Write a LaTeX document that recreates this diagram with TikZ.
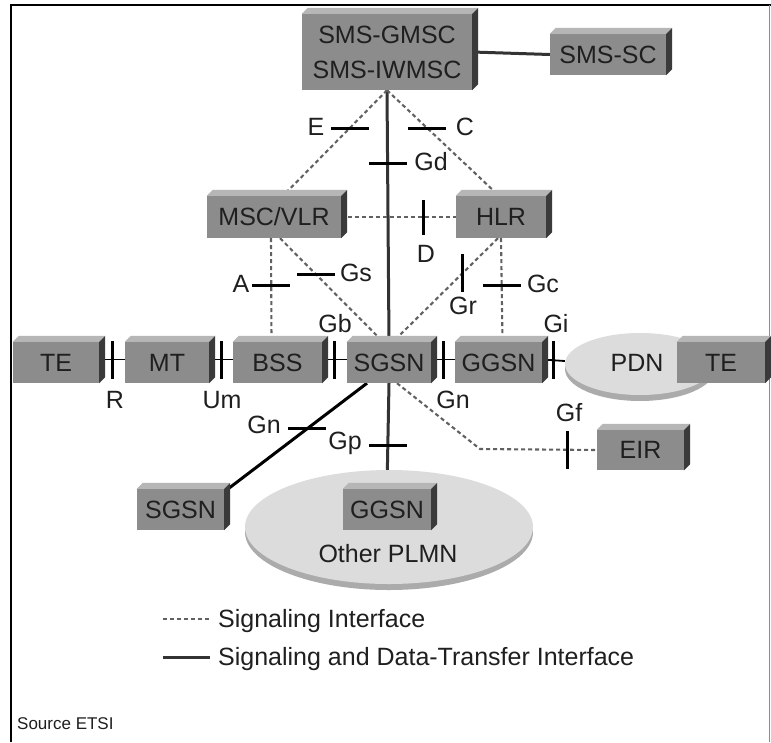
\documentclass[tikz,border=0pt]{standalone}
\usepackage{fontspec}
\setmainfont{Liberation Sans}
\usetikzlibrary{calc,shapes.geometric}

\definecolor{face}{HTML}{8C8C8C}
\definecolor{topf}{HTML}{B6B6B6}
\definecolor{side}{HTML}{3A3A3A}
\definecolor{cloud}{HTML}{DCDCDC}
\definecolor{cloudrim}{HTML}{ABABAB}

\pgfdeclarelayer{paper}
\pgfdeclarelayer{links}
\pgfsetlayers{paper,links,main}

\tikzset{
  lab/.style={font=\fontsize{25}{35}\selectfont, text=black!88, inner sep=0pt},
  box3d/.style={lab, fill=face, align=center},
  cloudshape/.style={lab, ellipse, fill=cloud, inner sep=0pt},
  sig/.style={draw=black!62, line width=2.1pt, dash pattern=on 4pt off 3pt},
  data/.style={draw=black!80, line width=3pt},
  tickV/.style={fill=black, inner sep=0pt, minimum width=3pt, minimum height=38pt},
  tickH/.style={fill=black, inner sep=0pt, minimum height=3pt, minimum width=38pt},
}

% 3-D box: name, outer x1, y1, x2, y2, label (depth of the bevel 6pt)
\newcommand\gbox[6]{%
  \pgfmathsetmacro\gbw{#4-#2-6}%
  \pgfmathsetmacro\gbh{#5-#3-6}%
  \node[box3d, minimum width=\gbw pt, minimum height=\gbh pt] (#1)
    at ({(#2+#4-6)/2},{(#3+#5+6)/2}) {#6};
  \fill[topf] (#1.north west) -- ++(6,-6) -- ($(#1.north east)+(6,-6)$)
    -- (#1.north east) -- cycle;
  \fill[side] (#1.north east) -- ++(6,-6) -- ($(#1.south east)+(6,-6)$)
    -- (#1.south east) -- cycle;
}

\begin{document}
\begin{tikzpicture}[x=1pt, y=-1pt]
\useasboundingbox (0,0) rectangle (771,742);
\begin{pgfonlayer}{paper}
  \fill[white] (0,0) rectangle (771,742);
\end{pgfonlayer}

% frame
\draw[black, line width=2pt] (11,742) -- (11,5) -- (771,5);
\draw[black!45, line width=1pt] (769.5,5) -- (769.5,742);

% clouds
\fill[cloudrim] (640,369) ellipse [x radius=75, y radius=32];
\node[cloudshape, minimum width=150pt, minimum height=62pt] (pdn) at (640,364) {};
\node[lab] (pdnl) at (637,363) {PDN};
\fill[cloudrim] (389,532) ellipse [x radius=144, y radius=58];
\node[cloudshape, minimum width=288pt, minimum height=114pt] (plmn) at (389,527) {};
\node[lab] (plmnl) at (388,554) {Other PLMN};

% network elements
\gbox{smsg}{302}{8}{478}{90}{SMS-GMSC\\SMS-IWMSC}
\gbox{smssc}{550}{28}{672}{75}{SMS-SC}
\gbox{msc}{207}{190}{347}{238}{MSC/VLR}
\gbox{hlr}{456}{190}{552}{238}{HLR}
\gbox{te}{13}{336}{105}{383}{TE}
\gbox{mt}{125}{336}{215}{383}{MT}
\gbox{bss}{233}{336}{328}{383}{BSS}
\gbox{sgsn}{347}{336}{437}{383}{SGSN}
\gbox{ggsn}{455}{336}{548}{383}{GGSN}
\gbox{tex}{677}{336}{771}{383}{TE}
\gbox{eir}{597}{424}{690}{470}{EIR}
\gbox{sgsnb}{137}{483}{230}{530}{SGSN}
\gbox{ggsnb}{343}{483}{437}{530}{GGSN}

\coordinate (bend) at (480,449);

\begin{pgfonlayer}{links}
  % signaling and data-transfer interfaces
  \draw[data] (smsg.east) -- (smssc.west);
  \draw[data] (smsg.south) -- node[pos=.29, tickH] (gdt) {} (sgsn.north);
  \draw[data] (sgsn.south) -- node[pos=.59, tickH] (gpt) {} (ggsnb.north);
  \draw[data, draw=black] ([xshift=-22pt]sgsn.south) -- node[pos=.42, tickH] (gnt) {} ([yshift=-3pt]sgsnb.north east);
  % interfaces along the row
  \foreach \a/\b/\t in {te/mt/rt, mt/bss/umt, bss/sgsn/gbt, sgsn/ggsn/gnrt, ggsn/pdn/git} {
    \draw[black, line width=1.8pt] ([yshift=3pt]\a.east) -- node[midway, tickV] (\t) {} ([yshift=3pt]\b.west);
  }
  % signaling interfaces
  \draw[sig] (smsg.south) -- node[pos=.36, tickH] (et) {} ([xshift=9pt]msc.north);
  \draw[sig] (smsg.south) -- node[pos=.36, tickH] (ct) {} ([xshift=-2pt]hlr.north);
  \draw[sig] (msc.east) -- node[pos=.72, tickV, minimum height=35pt] (dt) {} (hlr.west);
  \draw[sig] ([xshift=-3pt]msc.south) -- node[pos=.46, tickH] (at) {} ([xshift=-6pt]bss.north);
  \draw[sig] ([xshift=6pt]msc.south) -- node[pos=.35, tickH] (gst) {} ([xshift=-6pt]sgsn.north);
  \draw[sig] ([xshift=-3pt]hlr.south) -- node[pos=.34, tickV] (grt) {} ([xshift=4pt]sgsn.north);
  \draw[sig] ([xshift=0pt]hlr.south) -- node[pos=.46, tickH] (gct) {} ([xshift=4pt]ggsn.north);
  \draw[sig] ([xshift=8pt]sgsn.south) -- (bend) -- node[pos=.75, tickV] (gft) {} (eir.west);
\end{pgfonlayer}

% interface labels
\node[lab] (le)  at (316,127) {E};
\node[lab] (lc)  at (465,127) {C};
\node[lab] (lgd) at (431,162) {Gd};
\node[lab] (ld)  at (426,254) {D};
\node[lab] (la)  at (241,284) {A};
\node[lab] (lgs) at (356,273) {Gs};
\node[lab] (lgr) at (463,306) {Gr};
\node[lab] (lgc) at (543,284) {Gc};
\node[lab] (lgb) at (335,324) {Gb};
\node[lab] (lgi) at (556,324) {Gi};
\node[lab] (lr)  at (115,400) {R};
\node[lab] (lum) at (222,400) {Um};
\node[lab] (lgn) at (453,400) {Gn};
\node[lab] (lgf) at (569,413) {Gf};
\node[lab] (lgn2) at (264,425) {Gn};
\node[lab] (lgp) at (345,443) {Gp};

% legend
\coordinate (k1a) at (163,619);
\coordinate (k1b) at (210,619);
\coordinate (k2a) at (163,657);
\coordinate (k2b) at (210,657);
\draw[sig] (k1a) -- (k1b);
\draw[data] (k2a) -- (k2b);
\node[lab, anchor=west] (key1) at (218,621) {Signaling Interface};
\node[lab, anchor=west] (key2) at (218,659) {Signaling and Data-Transfer Interface};

\node[lab, font=\fontsize{17}{20}\selectfont, anchor=west] (src) at (17,724) {Source ETSI};
\end{tikzpicture}
\end{document}
